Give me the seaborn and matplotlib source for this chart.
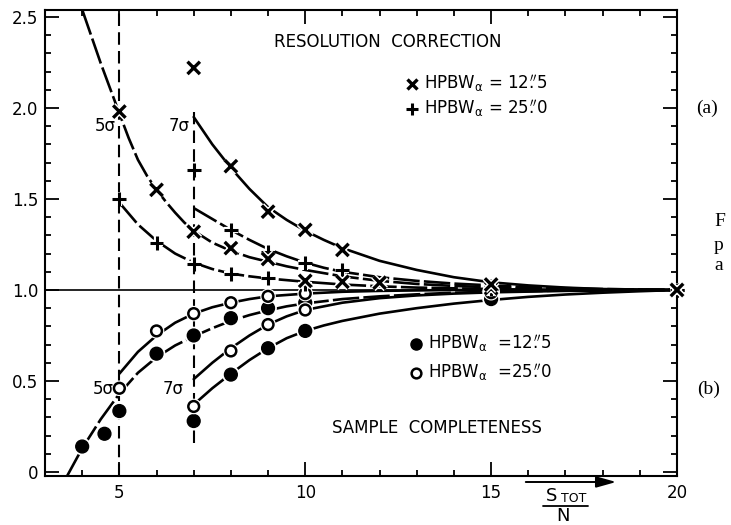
import matplotlib
matplotlib.use("Agg")
import matplotlib.pyplot as plt
import matplotlib.patheffects as pe
from matplotlib.lines import Line2D
from matplotlib.patches import FancyArrowPatch
from matplotlib.ticker import FixedLocator, MultipleLocator
import pandas as pd
import seaborn as sns

# ---------------------------------------------------------------- measured points
# resolution correction, HPBW 12".5 (crosses) and 25".0 (plus signs)
x_cross_5 = [5, 6, 7, 8, 9, 10, 11, 12, 15, 20]
y_cross_5 = [1.98, 1.55, 1.32, 1.23, 1.17, 1.05, 1.045, 1.04, 1.01, 1.00]
x_cross_7 = [7, 8, 9, 10, 11, 15, 20]
y_cross_7 = [2.22, 1.68, 1.43, 1.33, 1.22, 1.03, 1.00]
x_plus_5 = [5, 6, 7, 8, 9, 10, 15, 20]
y_plus_5 = [1.50, 1.26, 1.145, 1.09, 1.065, 1.03, 1.005, 1.00]
x_plus_7 = [7, 8, 9, 10, 11, 15, 20]
y_plus_7 = [1.66, 1.33, 1.21, 1.15, 1.11, 1.02, 1.00]

# sample completeness, HPBW 12".5 (filled) and 25".0 (open)
x_fill_5 = [4.0, 4.6, 5, 6, 7, 8, 9, 10, 15]
y_fill_5 = [0.14, 0.21, 0.335, 0.65, 0.75, 0.845, 0.90, 0.93, 0.99]
x_open_5 = [5, 6, 7, 8, 9, 10, 15]
y_open_5 = [0.46, 0.775, 0.87, 0.93, 0.965, 0.98, 1.00]
x_fill_7 = [7, 8, 9, 10, 15]
y_fill_7 = [0.28, 0.535, 0.68, 0.775, 0.95]
x_open_7 = [7, 8, 9, 10, 15]
y_open_7 = [0.36, 0.665, 0.81, 0.89, 0.985]

# ---------------------------------------------------------------- fitted curves
fit_c12_5_x = [4.0, 4.5, 5, 5.25, 5.5, 5.75, 6, 6.25, 6.5, 6.75, 7, 7.5, 8, 8.5, 9, 9.5, 10,
               11, 12, 13, 14, 15, 16, 17, 18, 20]
fit_c12_5_y = [2.54, 2.245, 1.97, 1.835, 1.715, 1.625, 1.55, 1.485, 1.425, 1.37, 1.325, 1.26,
               1.215, 1.18, 1.155, 1.13, 1.11, 1.075, 1.05, 1.033, 1.022, 1.015, 1.009,
               1.004, 1.001, 1.0]
fit_c12_7_x = [7, 7.5, 8, 8.5, 9, 9.5, 10, 10.5, 11, 12, 13, 14, 15, 16, 17, 18, 20]
fit_c12_7_y = [1.95, 1.80, 1.67, 1.555, 1.455, 1.385, 1.325, 1.275, 1.23, 1.16, 1.11, 1.07,
               1.042, 1.025, 1.013, 1.005, 1.0]
fit_c25_5_x = [5, 5.5, 6, 6.5, 7, 7.5, 8, 8.5, 9, 10, 11, 12, 13, 15, 16, 20]
fit_c25_5_y = [1.48, 1.36, 1.27, 1.20, 1.15, 1.115, 1.09, 1.075, 1.063, 1.045, 1.03, 1.02,
               1.013, 1.005, 1.002, 1.0]
fit_c25_7_x = [7, 7.5, 8, 8.5, 9, 9.5, 10, 10.5, 11, 12, 13, 14, 15, 16, 18, 20]
fit_c25_7_y = [1.45, 1.39, 1.33, 1.275, 1.225, 1.185, 1.15, 1.122, 1.10, 1.07, 1.05, 1.035,
               1.025, 1.015, 1.005, 1.0]

fit_s12_5_x = [3.6, 4.0, 4.5, 5, 5.5, 6, 6.5, 7, 7.5, 8, 8.5, 9, 9.5, 10, 11, 12, 13, 14, 15,
               17, 20]
fit_s12_5_y = [-0.02, 0.13, 0.29, 0.43, 0.545, 0.63, 0.695, 0.745, 0.79, 0.83, 0.862, 0.888,
               0.91, 0.926, 0.95, 0.965, 0.976, 0.985, 0.99, 0.997, 1.0]
fit_s25_5_x = [5, 5.5, 6, 6.5, 7, 7.5, 8, 8.5, 9, 10, 11, 12, 14, 20]
fit_s25_5_y = [0.54, 0.66, 0.75, 0.82, 0.87, 0.905, 0.93, 0.95, 0.965, 0.98, 0.99, 0.995, 1.0, 1.0]
fit_s25_7_x = [7, 7.5, 8, 8.5, 9, 9.5, 10, 11, 12, 13, 14, 15, 17, 20]
fit_s25_7_y = [0.51, 0.60, 0.68, 0.75, 0.81, 0.855, 0.89, 0.93, 0.955, 0.97, 0.98, 0.987,
               0.995, 1.0]
fit_s12_7_x = [7, 7.5, 8, 8.5, 9, 9.5, 10, 10.5, 11, 12, 13, 14, 15, 16, 17, 18, 19, 20]
fit_s12_7_y = [0.37, 0.46, 0.54, 0.615, 0.68, 0.735, 0.775, 0.805, 0.83, 0.87, 0.90, 0.925,
               0.945, 0.962, 0.975, 0.985, 0.993, 1.0]

sigma_cuts = [5, 7]
x_ticks = [5, 10, 15, 20]
x_tick_labels = ["5", "10", "15", "20"]
y_ticks = [0, 0.5, 1.0, 1.5, 2.0, 2.5]
y_tick_labels = ["0", "0.5", "1.0", "1.5", "2.0", "2.5"]

# ---------------------------------------------------------------- style
sns.set_style("ticks")
plt.rcParams.update({
    "font.family": ["DejaVu Sans"],
    "mathtext.fontset": "dejavusans",
    "axes.edgecolor": "black",
    "text.color": "black",
    "xtick.color": "black",
    "ytick.color": "black",
})

W, H = 731, 525
fig = plt.figure(figsize=(W / 100, H / 100), dpi=100)


def fx(px):
    return px / W


def fy(py):
    return 1 - py / H


ax = fig.add_axes([fx(45), fy(476), fx(677) - fx(45), fy(10) - fy(476)])
ax.set_xlim(3, 20)
ax.set_ylim(-0.022, 2.538)

# reference level and detection thresholds
ax.axhline(1.0, color="black", lw=1.2, zorder=1)
ax.axvline(sigma_cuts[0], color="black", lw=1.5, ls=(0, (6.0, 3.0)), zorder=1)
ax.vlines(sigma_cuts[1], 0.16, 1.98, color="black", lw=1.5, ls=(0, (6.0, 3.0)), zorder=1)

# fitted curves
long_dash = (0, (10.0, 1.6))
curves = [
    (fit_c12_5_x, fit_c12_5_y, long_dash),
    (fit_c12_7_x, fit_c12_7_y, "-"),
    (fit_c25_5_x, fit_c25_5_y, long_dash),
    (fit_c25_7_x, fit_c25_7_y, long_dash),
    (fit_s12_5_x, fit_s12_5_y, long_dash),
    (fit_s25_5_x, fit_s25_5_y, "-"),
    (fit_s25_7_x, fit_s25_7_y, "-"),
    (fit_s12_7_x, fit_s12_7_y, "-"),
]
for cx, cy, ls in curves:
    sns.lineplot(x=cx, y=cy, ax=ax, color="black", lw=1.9, linestyle=ls,
                 estimator=None, sort=False, zorder=2,
                 solid_joinstyle="round", dash_joinstyle="round")

# measured points, drawn with a thin white halo so the curves break around them
halo = [pe.Stroke(linewidth=4.5, foreground="white"), pe.Normal()]
ring = [pe.Stroke(linewidth=3.5, foreground="white"), pe.Normal()]


def points(xs, ys, marker, size, lw, face="black", effects=halo, z=4):
    df = pd.DataFrame({"x": xs, "y": ys})
    before = len(ax.collections)
    if marker in ("x", "+"):
        sns.scatterplot(data=df, x="x", y="y", ax=ax, marker=marker, s=size,
                        color="black", linewidth=lw, zorder=z, clip_on=False)
    else:
        sns.scatterplot(data=df, x="x", y="y", ax=ax, marker=marker, s=size,
                        color=face, edgecolor="black", linewidth=lw, zorder=z,
                        clip_on=False)
    for coll in ax.collections[before:]:
        coll.set_path_effects(effects)


points(x_fill_5, y_fill_5, "o", 85, 1.0, "black", ring, 3)
points(x_fill_7, y_fill_7, "o", 85, 1.0, "black", ring, 3)
points(x_open_5, y_open_5, "o", 60, 1.8, "white", ring, 3)
points(x_open_7, y_open_7, "o", 60, 1.8, "white", ring, 3)
points(x_plus_5, y_plus_5, "+", 100, 2.2)
points(x_plus_7, y_plus_7, "+", 100, 2.2)
points(x_cross_5, y_cross_5, "x", 80, 2.4, z=5)
points(x_cross_7, y_cross_7, "x", 80, 2.4, z=5)

ax.set_xlabel("")
ax.set_ylabel("")

# axes frame and ticks
for sp in ax.spines.values():
    sp.set_visible(True)
    sp.set_linewidth(1.5)
ax.xaxis.set_major_locator(FixedLocator(x_ticks))
ax.set_xticklabels(x_tick_labels)
ax.xaxis.set_minor_locator(MultipleLocator(1))
ax.yaxis.set_major_locator(FixedLocator(y_ticks))
ax.set_yticklabels(y_tick_labels)
ax.yaxis.set_minor_locator(MultipleLocator(0.1))
ax.tick_params(which="both", direction="in", top=True, right=True, width=1.3,
               labelsize=12)
ax.tick_params(which="major", length=10)
ax.tick_params(which="minor", length=4.5)
ax.tick_params(axis="x", pad=6)
ax.tick_params(axis="y", pad=5)

# threshold labels
ax.text(4.90, 1.90, "5σ", ha="right", va="center", fontsize=12)
ax.text(6.90, 1.90, "7σ", ha="right", va="center", fontsize=12)
ax.text(4.86, 0.455, "5σ", ha="right", va="center", fontsize=12)
ax.text(6.72, 0.455, "7σ", ha="right", va="center", fontsize=12)

# panel titles
fig.text(fx(388), fy(42), "RESOLUTION  CORRECTION", ha="center", va="center", fontsize=12)
fig.text(fx(437), fy(428), "SAMPLE  COMPLETENESS", ha="center", va="center", fontsize=12)

# legends
h_cross = Line2D([], [], ls="", marker="x", color="black", ms=7, mew=2.4)
h_plus = Line2D([], [], ls="", marker="+", color="black", ms=8, mew=2.2)
h_fill = Line2D([], [], ls="", marker="o", color="black", ms=8)
h_open = Line2D([], [], ls="", marker="o", mfc="white", mec="black", ms=7, mew=1.8)
lab_12 = r"HPBW$_\mathrm{\alpha}$ = 12$\overset{\prime\prime}{.}$5"
lab_25 = r"HPBW$_\mathrm{\alpha}$ = 25$\overset{\prime\prime}{.}$0"
leg_a = ax.legend([h_cross, h_plus], [lab_12, lab_25], loc="center left",
                  bbox_to_anchor=(fx(406), fy(97)), bbox_transform=fig.transFigure,
                  frameon=False, handlelength=0.7, handletextpad=0.4, labelspacing=0.25,
                  borderpad=0, borderaxespad=0, fontsize=12)
ax.add_artist(leg_a)
lab_12b = r"HPBW$_\mathrm{\alpha}$  =12$\overset{\prime\prime}{.}$5"
lab_25b = r"HPBW$_\mathrm{\alpha}$  =25$\overset{\prime\prime}{.}$0"
ax.legend([h_fill, h_open], [lab_12b, lab_25b], loc="center left",
          bbox_to_anchor=(fx(410), fy(359)), bbox_transform=fig.transFigure,
          frameon=False, handlelength=0.7, handletextpad=0.4, labelspacing=0.45,
          borderpad=0, borderaxespad=0, fontsize=12)

# x-axis label: S_TOT / N with an arrow
fig.add_artist(FancyArrowPatch(
    (fx(523), fy(482)), (fx(619), fy(482)), transform=fig.transFigure,
    arrowstyle="-|>,head_length=1.0,head_width=0.28", mutation_scale=12,
    color="black", lw=1.4))
fig.text(fx(546), fy(496), "S", ha="left", va="center", fontsize=13)
fig.text(fx(561), fy(499), "TOT", ha="left", va="center", fontsize=9)
fig.add_artist(Line2D([fx(543), fx(588)], [fy(506), fy(506)], color="black", lw=1.3,
                      transform=fig.transFigure))
fig.text(fx(563), fy(516), "N", ha="center", va="center", fontsize=13)

# panel tags and caption edge
serif = ["Liberation Serif", "DejaVu Serif"]
fig.text(fx(696), fy(108), "(a)", ha="left", va="center", fontsize=14, family=serif)
fig.text(fx(697), fy(389), "(b)", ha="left", va="center", fontsize=14, family=serif)
fig.text(fx(714), fy(222), "F", ha="left", va="center", fontsize=14, family=serif)
fig.text(fx(714), fy(245), "p", ha="left", va="center", fontsize=14, family=serif)
fig.text(fx(714), fy(266), "a", ha="left", va="center", fontsize=14, family=serif)

fig.savefig("out.png", dpi=100, facecolor="white")
